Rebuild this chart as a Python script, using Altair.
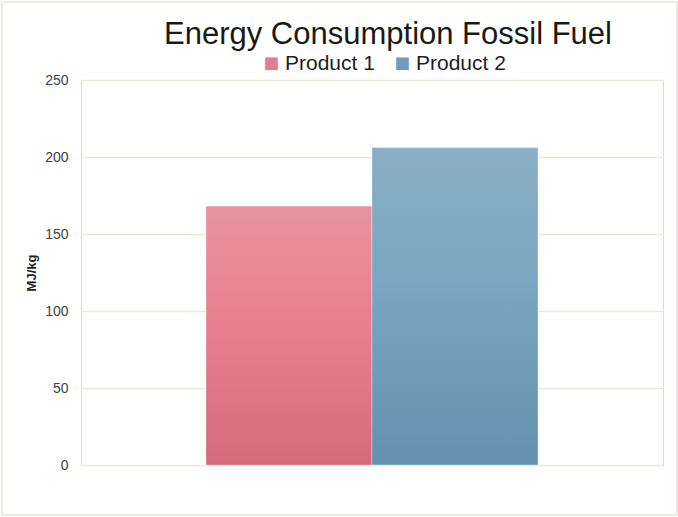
import altair as alt
import pandas as pd

# Fossil-fuel energy consumption per kg of product
products = ["Product 1", "Product 2"]
energy = [168, 206]

legend_colors = ["#e27d8e", "#6f9cb8"]
grad_stops = {
    "Product 1": ["#e8929f", "#e97f90", "#d46a7b"],
    "Product 2": ["#8aaec5", "#78a6c0", "#6391ad"],
}
y_ticks = [0, 50, 100, 150, 200, 250]

df = pd.DataFrame({"Product": products, "Energy": energy})

W, H = 582, 385
FONT = "Liberation Sans"

x_enc = alt.X(
    "Product:N",
    sort=products,
    scale=alt.Scale(domain=products, paddingInner=0, paddingOuter=0.753),
    axis=None,
)
y_enc = alt.Y(
    "Energy:Q",
    scale=alt.Scale(domain=[0, 250], nice=False),
    axis=alt.Axis(
        values=y_ticks,
        title="MJ/kg",
        titleFont=FONT,
        titleFontSize=13,
        titleFontWeight="bold",
        titleColor="#222222",
        titleAngle=270,
        titleX=-50,
        titleY=H / 2,
        titleAlign="center",
        titleBaseline="middle",
        labelFont=FONT,
        labelFontSize=14,
        labelColor="#404040",
        labelPadding=13,
        grid=True,
        gridColor="#ebe9dc",
        gridWidth=1.5,
        domain=False,
        ticks=False,
    ),
)

base = alt.Chart(df)

# flat bars carry the legend; gradient bars are drawn over them
flat = base.mark_bar().encode(
    x=x_enc,
    y=y_enc,
    color=alt.Color(
        "Product:N",
        scale=alt.Scale(domain=products, range=legend_colors),
        legend=alt.Legend(
            title=None,
            orient="none",
            direction="horizontal",
            legendX=180,
            legendY=-27,
            symbolType="square",
            symbolSize=160,
            symbolStrokeWidth=0,
            symbolOpacity=1,
            labelFont=FONT,
            labelFontSize=21,
            labelColor="#1e1e1e",
            labelOffset=3,
            columnPadding=17,
        ),
    ),
)


def gradient_layer(name):
    c = grad_stops[name]
    grad = alt.Gradient(
        gradient="linear",
        stops=[
            alt.GradientStop(color=c[0], offset=0),
            alt.GradientStop(color=c[1], offset=0.45),
            alt.GradientStop(color=c[2], offset=1),
        ],
        x1=0, x2=0, y1=0, y2=1,
    )
    return (
        base.transform_filter(alt.datum.Product == name)
        .mark_bar(fill=grad, stroke="#ffffff", strokeOpacity=0.35, strokeWidth=1)
        .encode(x=x_enc, y=y_enc)
    )


# light border around the whole chart
frame = (
    alt.Chart(alt.Data(values=[{}]))
    .mark_rect(filled=False, stroke="#e4e4d6", strokeWidth=1.5)
    .encode(
        x=alt.value(-79),
        x2=alt.value(W + 14),
        y=alt.value(-78),
        y2=alt.value(H + 50),
    )
)

chart = (
    alt.layer(flat, gradient_layer("Product 1"), gradient_layer("Product 2"), frame)
    .properties(
        width=W,
        height=H,
        autosize=alt.AutoSizeParams(type="none"),
        padding={"left": 81, "top": 80, "right": 15, "bottom": 52},
        title=alt.TitleParams(
            "Energy Consumption Fossil Fuel",
            font=FONT,
            fontSize=31,
            fontWeight="normal",
            color="#1a1a14",
            anchor="middle",
            frame="group",
            dx=16,
            offset=-50,
        ),
    )
    .configure_view(stroke=None)
    .configure(background="#ffffff")
)

chart.save("out.html", embed_options={"renderer": "svg", "actions": False})
